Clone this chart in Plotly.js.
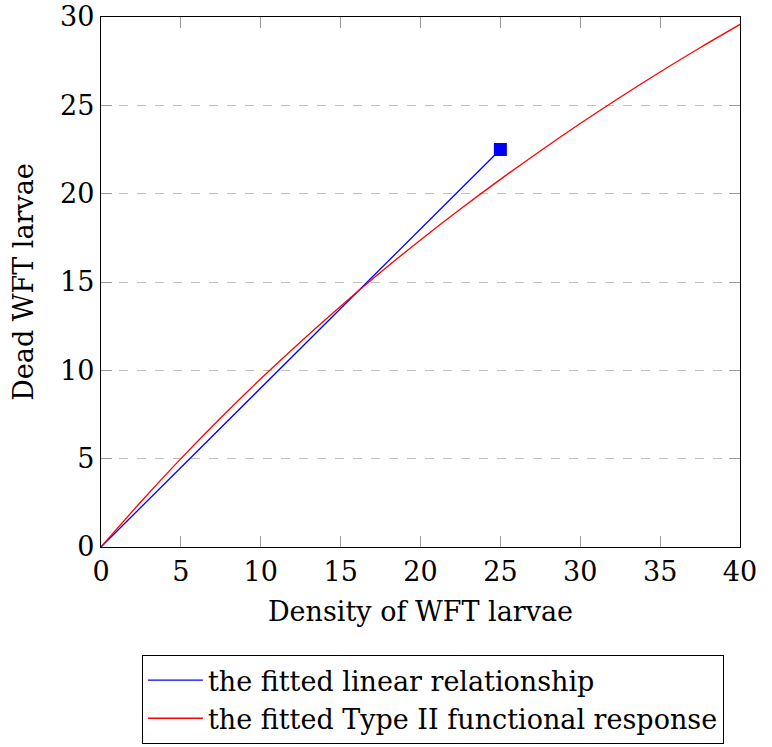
<!DOCTYPE html>
<html>
<head>
<meta charset="utf-8">
<script src="https://cdn.plot.ly/plotly-3.0.1.min.js"></script>
<style>html,body{margin:0;padding:0;background:#fff;}#chart{width:772px;height:747px;}</style>
</head>
<body>
<div id="chart"></div>
<script>
// Data
const linearX = [0, 25];
const linearY = [0, 22.5];
const typeIIX = [0, 2.5, 5, 7.5, 10, 12.5, 15, 17.5, 20, 22.5, 25, 27.5, 30, 32.5, 35, 37.5, 40];
const typeIIY = [0, 2.56, 5.00, 7.32, 9.52, 11.62, 13.63, 15.55, 17.38, 19.13, 20.81, 22.42, 23.97, 25.46, 26.89, 28.26, 29.58];
const markerX = [25];
const markerY = [22.5];
const xTicks = [0, 5, 10, 15, 20, 25, 30, 35, 40];
const yTicks = [0, 5, 10, 15, 20, 25, 30];
const seriesNames = ["the fitted linear relationship", "the fitted Type II functional response"];

const FONT = "DejaVu Serif";
const FS = 27;

const traces = [
  {x: linearX, y: linearY, mode: "lines", name: seriesNames[0],
   line: {color: "#0000ff", width: 1.3}},
  {x: typeIIX, y: typeIIY, mode: "lines", name: seriesNames[1],
   line: {color: "#ff0000", width: 1.3, shape: "spline"}},
  {x: markerX, y: markerY, mode: "markers", showlegend: false,
   marker: {symbol: "square", color: "#0000ff", size: 13}}
];

const axisCommon = {
  showline: true, linecolor: "#000", linewidth: 1.2, mirror: "ticks",
  ticks: "inside", ticklen: 11, tickcolor: "#999", tickwidth: 1,
  zeroline: false,
  tickfont: {family: FONT, size: FS, color: "#000"}
};

const layout = {
  width: 772, height: 747,
  margin: {l: 101, r: 32, t: 17, b: 200, autoexpand: false},
  paper_bgcolor: "#fff", plot_bgcolor: "#fff",
  font: {family: FONT, color: "#000"},
  showlegend: true,
  xaxis: Object.assign({}, axisCommon, {
    range: [0, 40], tickvals: xTicks, showgrid: false,
    title: {text: "Density of WFT larvae", font: {family: FONT, size: FS}, standoff: 16}
  }),
  yaxis: Object.assign({}, axisCommon, {
    range: [0, 30], tickvals: yTicks, showgrid: true,
    gridcolor: "#c0c0c0", gridwidth: 1, griddash: "dash",
    title: {text: "Dead WFT larvae", font: {family: FONT, size: FS}, standoff: 18}
  }),
  legend: {
    x: 0.064, y: -0.204, xanchor: "left", yanchor: "top",
    bordercolor: "#000", borderwidth: 1, bgcolor: "#fff",
    font: {family: FONT, size: FS}, tracegroupgap: 0, itemwidth: 55
  }
};

Plotly.newPlot("chart", traces, layout, {staticPlot: true, displayModeBar: false});
</script>
</body>
</html>
